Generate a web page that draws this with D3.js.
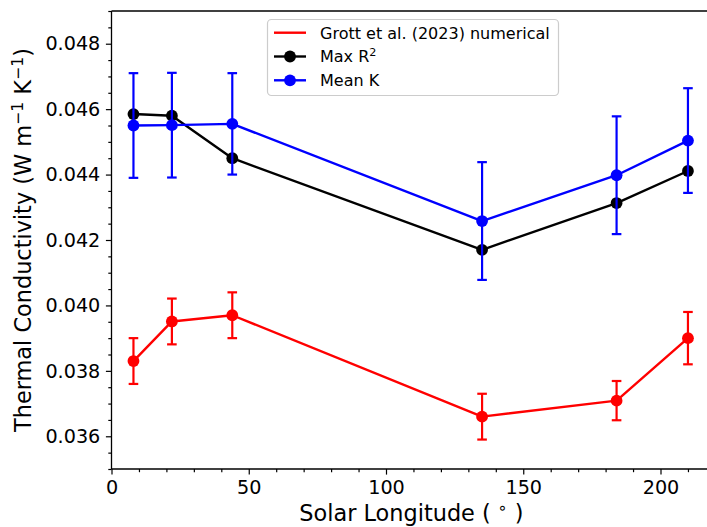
<!DOCTYPE html>
<html><head><meta charset="utf-8">
<script src="https://cdn.jsdelivr.net/npm/d3@7"></script>
<style>body{margin:0;background:#fff}svg{display:block;font-family:"DejaVu Sans",sans-serif}</style>
</head><body>
<svg id="c" width="707" height="527"></svg>
<script>
const solarLongitude = [8, 22, 44, 135, 184, 210];
const grottValues = [0.0383, 0.03951, 0.0397, 0.0366, 0.03709, 0.0390];
const grottErrors = [0.0007, 0.0007, 0.0007, 0.0007, 0.0006, 0.0008];
const maxR2Values = [0.04585, 0.0458, 0.0445, 0.0417, 0.04313, 0.04411];
const meanKValues = [0.0455, 0.04551, 0.04555, 0.04258, 0.04398, 0.04504];
const meanKErrors = [0.0016, 0.0016, 0.00155, 0.0018, 0.0018, 0.0016];
const xTicks = [0, 50, 100, 150, 200];
const yTicks = [0.036, 0.038, 0.040, 0.042, 0.044, 0.046, 0.048];

const svg = d3.select("#c");
const L = 111.5, T = 11, B = 469, R = 715.4;
const x = d3.scaleLinear().domain([0, 220]).range([L, R]);
const y = d3.scaleLinear().domain([0.035, 0.049]).range([B, T]);

const xAxis = d3.axisBottom(x).tickValues(xTicks).tickFormat(d3.format("d")).tickSize(5.6).tickPadding(5.6);
const xMinor = d3.axisBottom(x).tickValues(d3.range(0, 221, 10).filter(v => v % 50 !== 0)).tickSize(3.2).tickFormat("");
const yAxis = d3.axisLeft(y).tickValues(yTicks).tickFormat(d3.format(".3f")).tickSize(5.6).tickPadding(5.6);
const yMinor = d3.axisLeft(y).tickValues(d3.range(70, 99, 1).filter(k => k % 4 !== 0).map(k => k * 0.0005)).tickSize(3.2).tickFormat("");

function styleAxis(g){
  g.select(".domain").remove();
  g.selectAll("line").attr("stroke","#000").attr("stroke-width",1.2);
  g.selectAll("text").attr("fill","#000").style("font-size","19.2px").style("font-family","DejaVu Sans");
}
svg.append("g").attr("transform",`translate(0,${B})`).call(xAxis).call(styleAxis);
svg.append("g").attr("transform",`translate(0,${B})`).call(xMinor).call(styleAxis);
svg.append("g").attr("transform",`translate(${L},0)`).call(yAxis).call(styleAxis);
svg.append("g").attr("transform",`translate(${L},0)`).call(yMinor).call(styleAxis);

const idx = d3.range(solarLongitude.length);
const line = vals => d3.line().x(i => x(solarLongitude[i])).y(i => y(vals[i]))(idx);

function errorBars(vals, errs, color){
  const g = svg.append("g").attr("stroke", color).attr("stroke-width", 2.2);
  idx.forEach(i => {
    const cx = x(solarLongitude[i]);
    const y0 = y(vals[i] - errs[i]), y1 = y(vals[i] + errs[i]);
    g.append("line").attr("x1",cx).attr("x2",cx).attr("y1",y0).attr("y2",y1);
    g.append("line").attr("x1",cx-4.8).attr("x2",cx+4.8).attr("y1",y0).attr("y2",y0);
    g.append("line").attr("x1",cx-4.8).attr("x2",cx+4.8).attr("y1",y1).attr("y2",y1);
  });
}
function series(vals, color){
  svg.append("path").attr("d", line(vals)).attr("fill","none").attr("stroke",color).attr("stroke-width",2.4).attr("stroke-linejoin","round");
  svg.append("g").selectAll("circle").data(idx).join("circle")
    .attr("cx", i => x(solarLongitude[i])).attr("cy", i => y(vals[i])).attr("r", 5.9).attr("fill", color);
}
errorBars(grottValues, grottErrors, "#ff0000");
series(grottValues, "#ff0000");
series(maxR2Values, "#000000");
errorBars(meanKValues, meanKErrors, "#0000ff");
series(meanKValues, "#0000ff");

// spines
[[L,T,L,B],[L,B,R,B],[L,T,R,T],[R,T,R,B]].forEach(s =>
  svg.append("line").attr("x1",s[0]).attr("y1",s[1]).attr("x2",s[2]).attr("y2",s[3]).attr("stroke","#000").attr("stroke-width",1.3));

// axis labels
const xl = svg.append("text").attr("x", (L+R)/2 - 2).attr("y", 521).attr("text-anchor","middle").style("font-size","22.4px");
xl.append("tspan").text("Solar Longitude ( ");
xl.append("tspan").attr("dy",-8).style("font-size","15.7px").text("∘");
xl.append("tspan").attr("dy",8).text(" )");

const yl = svg.append("text").attr("transform",`translate(31,${(T+B)/2}) rotate(-90)`).attr("text-anchor","middle").style("font-size","22.4px");
yl.append("tspan").text("Thermal Conductivity (W m");
yl.append("tspan").attr("dy",-8).style("font-size","15.7px").text("−1");
yl.append("tspan").attr("dy",8).text(" K");
yl.append("tspan").attr("dy",-8).style("font-size","15.7px").text("−1");
yl.append("tspan").attr("dy",8).text(")");

// legend
const legendLabels = ["Grott et al. (2023) numerical", "Max R", "Mean K"];
const legendColors = ["#ff0000", "#000000", "#0000ff"];
const lg = svg.append("g");
lg.append("rect").attr("x",267.5).attr("y",19.5).attr("width",291).attr("height",76).attr("rx",4)
  .attr("fill","rgba(255,255,255,0.8)").attr("stroke","#cccccc").attr("stroke-width",1.2);
legendLabels.forEach((lab, i) => {
  const cy = 32.7 + i*23.8;
  lg.append("line").attr("x1",274).attr("x2",306).attr("y1",cy).attr("y2",cy).attr("stroke",legendColors[i]).attr("stroke-width",2.4);
  if (i > 0) lg.append("circle").attr("cx",290).attr("cy",cy).attr("r",5.9).attr("fill",legendColors[i]);
  const t = lg.append("text").attr("x",320).attr("y",cy+5.8).style("font-size","16px");
  t.append("tspan").text(lab);
  if (i === 1) t.append("tspan").attr("dy",-6).style("font-size","11.2px").text("2");
});
</script>
</body></html>
